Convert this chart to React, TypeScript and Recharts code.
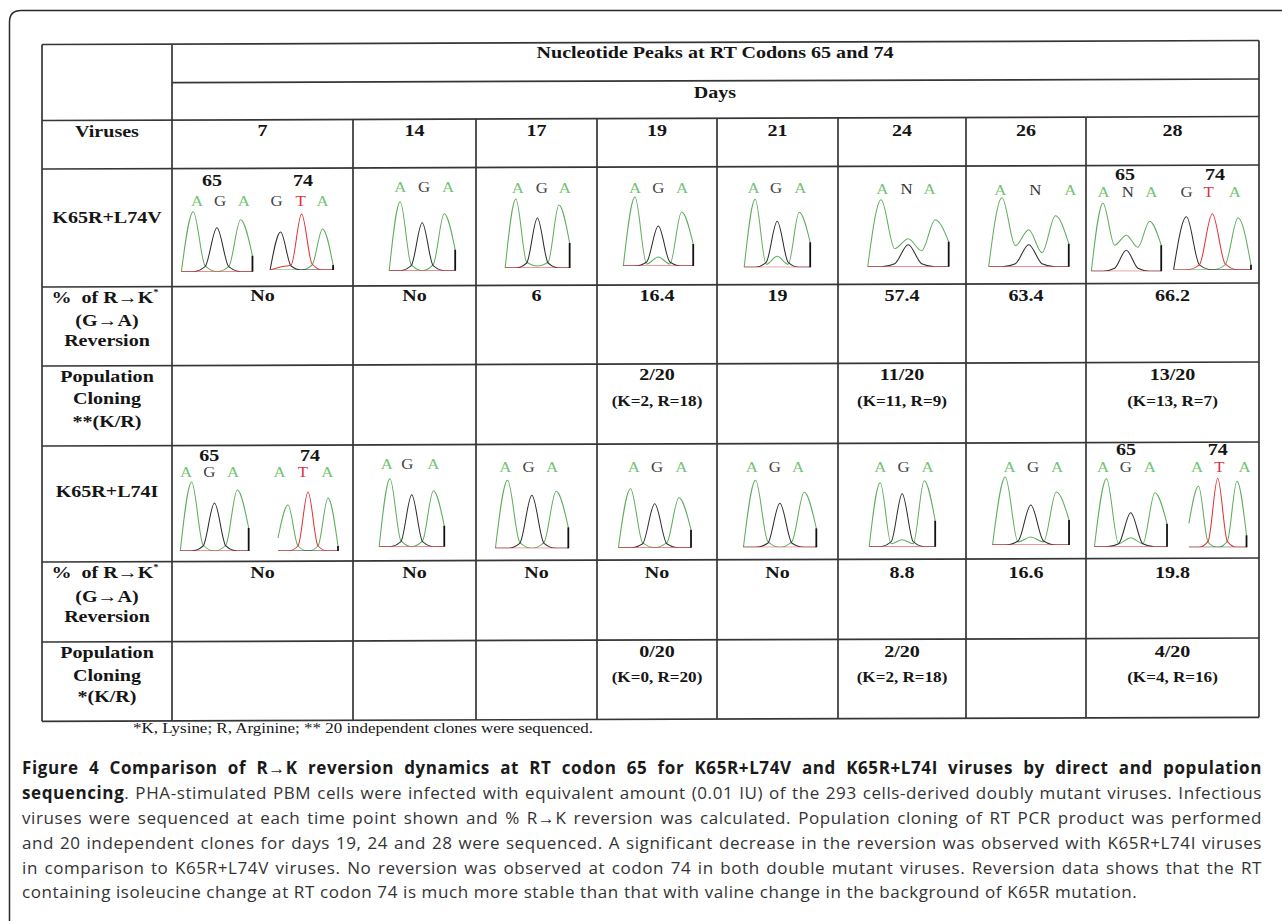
import React from 'react';
import { LineChart, Line, XAxis, YAxis, ReferenceLine, ReferenceDot } from 'recharts';

// ---------- table values ----------
const DAYS = ['7', '14', '17', '19', '21', '24', '26', '28'];
const VIRUSES = ['K65R+L74V', 'K65R+L74I'];
const REVERSION_L74V = ['No', 'No', '6', '16.4', '19', '57.4', '63.4', '66.2'];
const REVERSION_L74I = ['No', 'No', 'No', 'No', 'No', '8.8', '16.6', '19.8'];
const CLONES_L74V = ['', '', '', '2/20', '', '11/20', '', '13/20'];
const CLONES_L74V_KR = ['', '', '', '(K=2, R=18)', '', '(K=11, R=9)', '', '(K=13, R=7)'];
const CLONES_L74I = ['', '', '', '0/20', '', '2/20', '', '4/20'];
const CLONES_L74I_KR = ['', '', '', '(K=0, R=20)', '', '(K=2, R=18)', '', '(K=4, R=16)'];

// ---------- chromatogram traces ----------
// signal sampled at base positions -0.5, 0, 0.5, 1, 1.5, 2, 2.5 of each codon
const POSITIONS = [-0.5, 0, 0.5, 1, 1.5, 2, 2.5];
const Z = [0, 0, 0, 0, 0, 0, 0];

type Trace = { id: string; bases: string; A: number[]; G: number[]; T: number[]; cut: number };

const TRACES_L74V: Trace[] = [
  { id: 'v7_65', bases: 'AGA', A: [0, 60, 6, 0, 5, 52, 16], G: [0, 0, 5, 44, 5, 0, 0], T: Z, cut: 16 },
  { id: 'v7_74', bases: 'GTA', A: [0, 0, 0, 0, 5, 41, 5], G: [0, 38, 4, 0, 0, 0, 0], T: [0, 3, 5, 56, 6, 0, 0], cut: 5 },
  { id: 'v14', bases: 'AGA', A: [0, 69, 6, 0, 6, 57, 21], G: [0, 0, 5, 48, 5, 0, 0], T: Z, cut: 21 },
  { id: 'v17', bases: 'AGA', A: [0, 69, 6, 2, 6, 63, 25], G: [0, 0, 5, 50, 5, 0, 0], T: Z, cut: 25 },
  { id: 'v19', bases: 'AGA', A: [0, 69, 2, 9, 2, 54, 22], G: [0, 0, 4, 40, 4, 0, 0], T: Z, cut: 22 },
  { id: 'v21', bases: 'AGA', A: [0, 68, 3, 11, 3, 55, 25], G: [0, 0, 5, 46, 5, 0, 0], T: Z, cut: 25 },
  { id: 'v24', bases: 'ANA', A: [0, 67, 18, 28, 16, 47, 25], G: [0, 0, 3, 22, 3, 0, 0], T: Z, cut: 25 },
  { id: 'v26', bases: 'ANA', A: [0, 69, 21, 37, 14, 51, 23], G: [0, 0, 3, 22, 3, 0, 0], T: Z, cut: 23 },
  { id: 'v28_65', bases: 'ANA', A: [0, 68, 26, 36, 24, 50, 26], G: [0, 0, 3, 21, 3, 0, 0], T: Z, cut: 26 },
  { id: 'v28_74', bases: 'GTA', A: [0, 0, 0, 0, 5, 52, 5], G: [0, 53, 5, 0, 0, 0, 0], T: [0, 0, 5, 56, 6, 0, 0], cut: 5 },
];

const TRACES_L74I: Trace[] = [
  { id: 'i7_65', bases: 'AGA', A: [0, 69, 6, 0, 6, 61, 23], G: [0, 0, 5, 48, 5, 0, 0], T: Z, cut: 23 },
  { id: 'i7_74', bases: 'ATA', A: [13, 46, 5, 0, 5, 53, 5], G: Z, T: [0, 0, 5, 59, 5, 0, 0], cut: 5 },
  { id: 'i14', bases: 'AGA', A: [0, 68, 6, 0, 6, 56, 21], G: [0, 0, 5, 52, 5, 0, 0], T: Z, cut: 21 },
  { id: 'i17', bases: 'AGA', A: [0, 68, 6, 0, 6, 57, 21], G: [0, 0, 5, 53, 5, 0, 0], T: Z, cut: 21 },
  { id: 'i19', bases: 'AGA', A: [0, 59, 5, 0, 5, 50, 18], G: [0, 0, 4, 44, 4, 0, 0], T: Z, cut: 18 },
  { id: 'i21', bases: 'AGA', A: [0, 67, 6, 0, 6, 55, 19], G: [0, 0, 4, 44, 4, 0, 0], T: Z, cut: 19 },
  { id: 'i24', bases: 'AGA', A: [0, 64, 3, 7, 3, 66, 26], G: [0, 0, 5, 53, 5, 0, 0], T: Z, cut: 26 },
  { id: 'i26', bases: 'AGA', A: [0, 68, 3, 8, 3, 53, 25], G: [0, 0, 4, 40, 4, 0, 0], T: Z, cut: 25 },
  { id: 'i28_65', bases: 'AGA', A: [0, 68, 3, 9, 3, 54, 23], G: [0, 0, 3, 34, 3, 0, 0], T: Z, cut: 23 },
  { id: 'i28_74', bases: 'ATA', A: [24, 61, 5, 0, 6, 66, 12], G: Z, T: [0, 0, 6, 69, 6, 0, 0], cut: 12 },
];

// ---------- placement of each trace panel ----------
type Place = { x0: number; step: number; base: number; letterY: number; letterAt: number[] };
const PLACES: Record<string, Place> = {
  v7_65: { x0: 193.3, step: 23.7, base: 271.7, letterY: 206, letterAt: [0.16, 1.13, 2.14] },
  v7_74: { x0: 281, step: 21, base: 270, letterY: 206, letterAt: [-0.19, 0.95, 2.0] },
  v14: { x0: 400, step: 22, base: 270.7, letterY: 192, letterAt: [0, 1.09, 2.18] },
  v17: { x0: 516, step: 21.5, base: 268, letterY: 193, letterAt: [0.09, 1.21, 2.28] },
  v19: { x0: 635, step: 23.3, base: 266, letterY: 193, letterAt: [0, 1.0, 2.02] },
  v21: { x0: 755, step: 22, base: 267.3, letterY: 193, letterAt: [-0.08, 0.95, 2.05] },
  v24: { x0: 880.7, step: 27, base: 266.7, letterY: 194, letterAt: [0.04, 0.94, 1.79] },
  v26: { x0: 1001.7, step: 26.7, base: 266.7, letterY: 195, letterAt: [-0.06, 1.25, 2.56] },
  v28_65: { x0: 1103.3, step: 23.3, base: 270.7, letterY: 196.5, letterAt: [0.03, 1.07, 2.08] },
  v28_74: { x0: 1186.7, step: 25.8, base: 269.3, letterY: 196.5, letterAt: [0, 0.86, 1.87] },
  i7_65: { x0: 191.7, step: 22.8, base: 551, letterY: 477, letterAt: [-0.25, 0.77, 1.82] },
  i7_74: { x0: 288.3, step: 20, base: 551, letterY: 477, letterAt: [-0.42, 0.75, 1.97] },
  i14: { x0: 390, step: 21.7, base: 546.7, letterY: 469, letterAt: [-0.15, 0.8, 2.0] },
  i17: { x0: 507.3, step: 24.3, base: 548.3, letterY: 472, letterAt: [-0.09, 0.86, 1.83] },
  i19: { x0: 630.7, step: 24.2, base: 547.7, letterY: 472, letterAt: [0.14, 1.1, 2.1] },
  i21: { x0: 755.7, step: 24.3, base: 547.3, letterY: 472, letterAt: [-0.16, 0.79, 1.75] },
  i24: { x0: 880, step: 22, base: 546.7, letterY: 472, letterAt: [0, 1.06, 2.15] },
  i26: { x0: 1005, step: 25.5, base: 545, letterY: 472, letterAt: [0.17, 1.09, 2.03] },
  i28_65: { x0: 1106.7, step: 24.2, base: 546.7, letterY: 472, letterAt: [-0.14, 0.8, 1.79] },
  i28_74: { x0: 1198.3, step: 19.2, base: 547.3, letterY: 472, letterAt: [-0.08, 1.08, 2.4] },
};

const CAPTION_LINES = [
  'viruses were sequenced at each time point shown and % R\u2192K reversion was calculated. Population cloning of RT PCR product was performed',
  'and 20 independent clones for days 19, 24 and 28 were sequenced. A significant decrease in the reversion was observed with K65R+L74I viruses',
  'in comparison to K65R+L74V viruses. No reversion was observed at codon 74 in both double mutant viruses. Reversion data shows that the RT',
];

// ---------- styling ----------
const SERIF = '"Liberation Serif", "Times New Roman", serif';
const SANS = '"Open Sans", "Noto Sans", sans-serif';
const INK = '#151515';
const GRID = '#363636';
const BASE_COLORS: Record<string, string> = { A: '#5fae5f', G: '#2e2e2e', T: '#e0343c', N: '#2e2e2e' };
const LETTER_COLORS: Record<string, string> = { A: '#72c472', G: '#444444', T: '#d8323c', N: '#333333' };

const COLS = [42, 172, 353, 476, 597, 717, 838, 966, 1086, 1259];
const ROWS = [42.5, 81, 118.5, 167, 285, 364, 444, 560, 640, 719.3];
const TILT = 0.0033;
const yAt = (y: number, x: number) => y - TILT * (x - 650);

const PLOT_H = 75;
const PAD = 14;
const X_DOMAIN: [number, number] = [-0.6, 2.6];

function T({ x, y, size = 17, sx = 1.18, weight = 'bold', anchor = 'middle', fill = INK, children }: any) {
  return (
    <text
      transform={`translate(${x} ${y}) scale(${sx} 1)`}
      textAnchor={anchor}
      fontFamily={SERIF}
      fontSize={size}
      fontWeight={weight}
      fill={fill}
      style={{ whiteSpace: 'pre' }}
    >
      {children}
    </text>
  );
}

function Chromatogram({ trace }: { trace: Trace }) {
  const p = PLACES[trace.id];
  const span = X_DOMAIN[1] - X_DOMAIN[0];
  const plotW = span * p.step;
  const left = p.x0 + X_DOMAIN[0] * p.step - PAD;
  const top = p.letterY - 18;
  const mTop = p.base - PLOT_H - top;
  const width = plotW + 2 * PAD;
  const height = mTop + PLOT_H + 4;
  const rows = POSITIONS.map((x, i) => ({ x, A: trace.A[i], G: trace.G[i], T: trace.T[i] }));
  // height of the base-call row above the trace baseline, in signal units (1 unit = 1px)
  const callLevel = p.base - p.letterY;

  return (
    <div style={{ position: 'absolute', left, top, width, height }}>
      <LineChart width={width} height={height} data={rows} margin={{ top: mTop, right: PAD, bottom: 4, left: PAD }}>
        <XAxis xAxisId="pos" type="number" dataKey="x" domain={X_DOMAIN} allowDataOverflow hide />
        <YAxis type="number" domain={[0, PLOT_H]} allowDataOverflow hide />
        <Line xAxisId="pos" dataKey="A" type="monotone" stroke={BASE_COLORS.A} strokeWidth={1.05} dot={false} isAnimationActive={false} />
        <Line xAxisId="pos" dataKey="G" type="monotone" stroke={BASE_COLORS.G} strokeWidth={1.05} dot={false} isAnimationActive={false} />
        <Line xAxisId="pos" dataKey="T" type="monotone" stroke={BASE_COLORS.T} strokeWidth={1.05} dot={false} isAnimationActive={false} />
        <ReferenceLine
          xAxisId="pos"
          segment={[{ x: 2.5, y: 0 }, { x: 2.5, y: trace.cut }]}
          stroke="#111"
          strokeWidth={1.8}
        />
        {p.letterAt.map((pos, i) => {
          const b = trace.bases[i];
          return (
            <ReferenceDot
              key={i}
              xAxisId="pos"
              x={pos}
              y={callLevel}
              r={1}
              ifOverflow="visible"
              shape={(s: any) => (
                <text
                  transform={`translate(${s.cx} ${s.cy}) scale(1.2 1)`}
                  textAnchor="middle"
                  fontFamily={SERIF}
                  fontSize={14}
                  fill={LETTER_COLORS[b]}
                >
                  {b}
                </text>
              )}
            />
          );
        })}
      </LineChart>
    </div>
  );
}

function hLine(y: number, x1: number, x2: number, key: string) {
  return <line key={key} x1={x1} y1={yAt(y, x1)} x2={x2} y2={yAt(y, x2)} stroke={GRID} strokeWidth={1.7} />;
}
function vLine(x: number, y1: number, y2: number, key: string) {
  return <line key={key} x1={x} y1={yAt(y1, x)} x2={x} y2={yAt(y2, x)} stroke={GRID} strokeWidth={1.7} />;
}

function colCenter(i: number) {
  return (COLS[i + 1] + COLS[i + 2]) / 2;
}

function DataRows({ reversion, clones, clonesKR, yRev, yClone, yKR }: any) {
  return (
    <g>
      {reversion.map((v: string, i: number) => (
        <T key={'r' + i} x={colCenter(i)} y={yRev}>{v}</T>
      ))}
      {clones.map((v: string, i: number) =>
        v ? <T key={'c' + i} x={colCenter(i)} y={yClone}>{v}</T> : null
      )}
      {clonesKR.map((v: string, i: number) =>
        v ? <T key={'k' + i} x={colCenter(i)} y={yKR} size={14.5}>{v}</T> : null
      )}
    </g>
  );
}

function Table() {
  const lines: any[] = [];
  lines.push(hLine(ROWS[0], COLS[0], COLS[9], 'h0'));
  lines.push(hLine(ROWS[1], COLS[1], COLS[9], 'h1'));
  for (let r = 2; r < ROWS.length; r++) lines.push(hLine(ROWS[r], COLS[0], COLS[9], 'h' + r));
  lines.push(vLine(COLS[0], ROWS[0], ROWS[9], 'v0'));
  lines.push(vLine(COLS[1], ROWS[0], ROWS[9], 'v1'));
  lines.push(vLine(COLS[9], ROWS[0], ROWS[9], 'v9'));
  for (let c = 2; c < 9; c++) lines.push(vLine(COLS[c], ROWS[2], ROWS[9], 'v' + c));

  const lx = (COLS[0] + COLS[1]) / 2;
  return (
    <g>
      {lines}
      <T x={715} y={58}>Nucleotide Peaks at RT Codons 65 and 74</T>
      <T x={715} y={98}>Days</T>
      <T x={lx} y={137}>Viruses</T>
      {DAYS.map((d, i) => (
        <T key={d} x={colCenter(i)} y={136}>{d}</T>
      ))}

      {/* K65R+L74V block */}
      <T x={lx} y={223}>{VIRUSES[0]}</T>
      <T x={212} y={186}>65</T>
      <T x={303} y={186}>74</T>
      <T x={1125} y={180}>65</T>
      <T x={1215} y={180}>74</T>
      <T x={lx - 2} y={302.7}>
        {'%  of R\u2192K'}
        <tspan fontSize={9} dy={-8}>*</tspan>
      </T>
      <T x={lx} y={325.7}>(G{'\u2192'}A)</T>
      <T x={lx} y={346}>Reversion</T>
      <T x={lx} y={382.3}>Population</T>
      <T x={lx} y={404}>Cloning</T>
      <T x={lx} y={426.7}>**(K/R)</T>
      <DataRows reversion={REVERSION_L74V} clones={CLONES_L74V} clonesKR={CLONES_L74V_KR} yRev={301} yClone={380} yKR={406} />

      {/* K65R+L74I block */}
      <T x={lx} y={497}>{VIRUSES[1]}</T>
      <T x={209.3} y={460.7}>65</T>
      <T x={310} y={460.7}>74</T>
      <T x={1126} y={455}>65</T>
      <T x={1217.7} y={455}>74</T>
      <T x={lx - 2} y={578.3}>
        {'%  of R\u2192K'}
        <tspan fontSize={9} dy={-8}>*</tspan>
      </T>
      <T x={lx} y={601.7}>(G{'\u2192'}A)</T>
      <T x={lx} y={622.3}>Reversion</T>
      <T x={lx} y={658.3}>Population</T>
      <T x={lx} y={680.7}>Cloning</T>
      <T x={lx} y={702.3}>*(K/R)</T>
      <DataRows reversion={REVERSION_L74I} clones={CLONES_L74I} clonesKR={CLONES_L74I_KR} yRev={577.7} yClone={656.7} yKR={681.7} />

      <text x={133} y={733} fontFamily={SERIF} fontSize={14} fill={INK} textLength={460} lengthAdjust="spacingAndGlyphs">
        *K, Lysine; R, Arginine; ** 20 independent clones were sequenced.
      </text>
    </g>
  );
}

const lineStyle: React.CSSProperties = {
  height: 24.9,
  lineHeight: '24.9px',
  textAlign: 'justify',
  textAlignLast: 'justify' as any,
  overflow: 'visible',
};

export default function App() {
  return (
    <div style={{ position: 'fixed', left: 0, top: 0, width: 1282, height: 921, background: '#fff', overflow: 'hidden' }}>
      <svg width={1282} height={921} style={{ position: 'absolute', left: 0, top: 0 }}>
        <path d="M 9.5 930 V 22 Q 9.5 10.5 21 10.5 H 1290" fill="none" stroke="#2a2a2a" strokeWidth={1.5} />
        <Table />
      </svg>

      {[...TRACES_L74V, ...TRACES_L74I].map((t) => (
        <Chromatogram key={t.id} trace={t} />
      ))}

      <div
        style={{
          position: 'absolute',
          left: 22,
          top: 756,
          width: 1240,
          fontFamily: SANS,
          fontSize: 17,
          letterSpacing: '0.6px',
          color: '#333',
        }}
      >
        <div style={{ ...lineStyle, fontWeight: 700, color: '#1a1a1a' }}>
          Figure 4 Comparison of R{'\u2192'}K reversion dynamics at RT codon 65 for K65R+L74V and K65R+L74I viruses by direct and population
        </div>
        <div style={lineStyle}>
          <span style={{ fontWeight: 700, color: '#1a1a1a' }}>sequencing</span>. PHA-stimulated PBM cells were infected with equivalent amount (0.01 IU) of the 293 cells-derived doubly mutant viruses. Infectious
        </div>
        {CAPTION_LINES.map((l) => (
          <div key={l} style={lineStyle}>{l}</div>
        ))}
        <div style={{ ...lineStyle, textAlign: 'left', textAlignLast: 'left' as any }}>
          containing isoleucine change at RT codon 74 is much more stable than that with valine change in the background of K65R mutation.
        </div>
      </div>
    </div>
  );
}
